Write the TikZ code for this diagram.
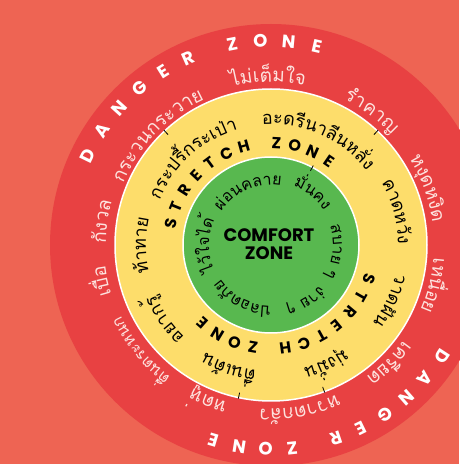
\documentclass[tikz,border=0pt]{standalone}
\usepackage{fontspec}
\newfontfamily\thaifont[Script=Thai]{Loma}
\newfontfamily\zonefont{Poppins}
\usepackage{tikz}
\usetikzlibrary{decorations.text, calc}

\definecolor{bgcoral}{HTML}{EE6453}
\definecolor{dangerred}{HTML}{E84142}
\definecolor{stretchyellow}{HTML}{FDDD6B}
\definecolor{comfortgreen}{HTML}{58B84F}
\definecolor{dangertext}{HTML}{FDE2DE}

% word set along a clockwise arc round (c)
\newcommand{\arcword}[5]{%
  \path[decorate, decoration={text along path, text align=center, text color=#1,
      text={|\thaifont\fontsize{#2}{#2}\selectfont|#5}}]
    ($(c)+(#4+80:#3)$) arc[start angle=#4+80, end angle=#4-80, radius=#3];}

\begin{document}
\begin{tikzpicture}[x=1pt, y=1pt,
  dangerletter/.style={font=\zonefont\bfseries\fontsize{18}{18}\selectfont, text=white, inner sep=0pt},
  stretchletter/.style={font=\zonefont\bfseries\fontsize{16}{16}\selectfont, text=black, inner sep=0pt},
  comfortlabel/.style={font=\zonefont\bfseries\fontsize{18}{18}\selectfont, align=center, inner sep=0pt},
  ring/.style={draw=white, line width=1.5pt},
  tick/.style={draw=black, line width=0.8pt},
]
\useasboundingbox (0,0) rectangle (459,464);
\fill[bgcoral] (0,0) rectangle (459,464);
\coordinate (c) at (271,219);

\fill[dangerred] (c) circle[radius=221];
\filldraw[ring, fill=stretchyellow] (c) circle[radius=156];
\filldraw[ring, fill=comfortgreen] (c) circle[radius=88];

\foreach \a in {133,47,-102,-70}
  \draw[tick] ($(c)+(\a:151)$) -- ($(c)+(\a:157)$);
\draw[tick] ($(c)+(62:84)$) -- ($(c)+(62:90)$);

\node[comfortlabel] (comfort) at ($(c)+(-2,1)$) {COMFORT\\ZONE};

\foreach \ch/\a [count=\i] in {D/154,A/146,N/138,G/130,E/122,R/114,Z/101,O/93,N/85,E/77}
  \node[dangerletter, rotate=\a-90] (dtop\i) at ($(c)+(\a:204)$) {\ch};
\foreach \ch/\a [count=\i] in {D/-33,A/-41,N/-48.5,G/-56,E/-64,R/-71.5,Z/-84,O/-91.5,N/-99,E/-106.5}
  \node[dangerletter, rotate=\a-90] (dbot\i) at ($(c)+(\a:204)$) {\ch};

\foreach \ch/\a [count=\i] in {S/168,T/158,R/147.5,E/137,T/126.5,C/116,H/105.5,Z/87,O/76.5,N/66,E/55.5}
  \node[stretchletter, rotate=\a-90] (stop\i) at ($(c)+(\a:102)$) {\ch};
\foreach \ch/\a [count=\i] in {S/-19,T/-29.5,R/-40,E/-50.5,T/-61,C/-71.5,H/-82,Z/-100,O/-110.5,N/-121,E/-131.5}
  \node[stretchletter, rotate=\a-90] (sbot\i) at ($(c)+(\a:104)$) {\ch};

\arcword{dangertext}{19}{163}{91}{{ไ}{ม่}{เ}{ต็}{ม}{ใ}{จ}}
\arcword{dangertext}{19}{163}{53}{{รำ}{ค}{า}{ญ}}
\arcword{dangertext}{19}{163}{20}{{ห}{งุ}{ด}{ห}{งิ}{ด}}
\arcword{dangertext}{19}{163}{-14}{{เ}{ห}{นื่}{อ}{ย}}
\arcword{dangertext}{19}{163}{-45}{{เ}{ค}{รี}{ย}{ด}}
\arcword{dangertext}{19}{164}{-80}{{ห}{ว}{า}{ด}{ก}{ลั}{ว}}
\arcword{dangertext}{19}{163}{-112}{{ห}{ด}{หู่}}
\arcword{dangertext}{16}{166}{-141}{{ตื่}{น}{ต}{ร}{ะ}{ห}{น}{ก}}
\arcword{dangertext}{19}{167}{-168}{{เ}{บื่}{อ}}
\arcword{dangertext}{19}{165}{172}{{กั}{ง}{ว}{ล}}
\arcword{dangertext}{19}{160}{136}{{ก}{ร}{ะ}{ว}{น}{ก}{ร}{ะ}{ว}{า}{ย}}

\arcword{black}{18}{120}{132}{{ก}{ร}{ะ}{ป}{รี้}{ก}{ร}{ะ}{เ}{ป่}{า}}
\arcword{black}{18}{121}{66}{{อ}{ะ}{ด}{รี}{น}{า}{ลี}{น}{ห}{ลั่}{ง}}
\arcword{black}{18}{127}{15}{{ค}{า}{ด}{ห}{วั}{ง}}
\arcword{black}{18}{128}{-25}{{ว}{า}{ด}{ฝั}{น}}
\arcword{black}{18}{127}{-65}{{มุ่}{ง}{มั่}{น}}
\arcword{black}{18}{126}{-109}{{ตื่}{น}{เ}{ต้}{น}}
\arcword{black}{18}{126}{-145}{{อ}{ย}{า}{ก}{รู้}}
\arcword{black}{18}{125}{180}{{ท้}{า}{ท}{า}{ย}}

\arcword{black}{16}{60}{113}{{ผ่}{อ}{น}{ค}{ล}{า}{ย}}
\arcword{black}{16}{63}{51}{{มั่}{น}{ค}{ง}}
\arcword{black}{16}{62}{-6}{{ส}{บ}{า}{ย} {ๆ}}
\arcword{black}{16}{63}{-58}{{ง่}{า}{ย} {ๆ}}
\arcword{black}{16}{61}{-118}{{ป}{ล}{อ}{ด}{ภั}{ย}}
\arcword{black}{16}{62}{180}{{ไ}{ว้}{ใ}{จ}{ไ}{ด้}}
\end{tikzpicture}
\end{document}
